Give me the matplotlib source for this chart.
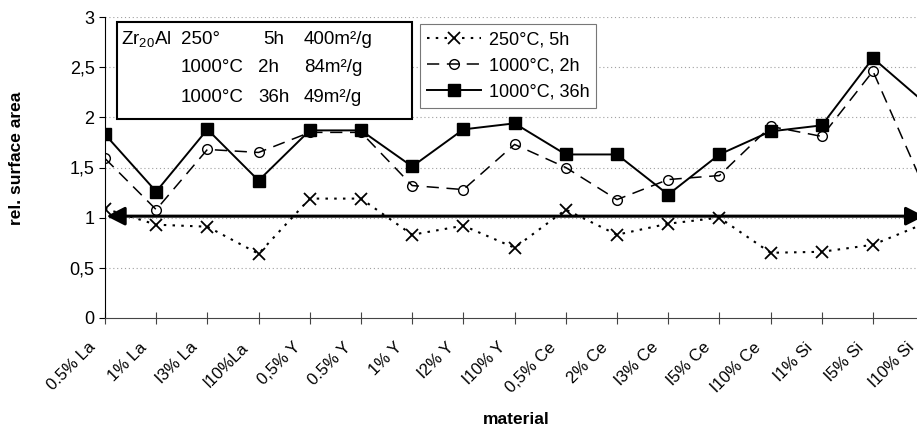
import matplotlib
matplotlib.use("Agg")
import matplotlib.pyplot as plt
from matplotlib.patches import Rectangle
from matplotlib.ticker import FuncFormatter
from matplotlib.transforms import ScaledTranslation

plt.rcParams["font.family"] = ["Liberation Sans", "DejaVu Sans"]

# data
materials = ["0.5% La", "1% La", "l3% La", "l10%La", "0,5% Y", "0.5% Y", "1% Y",
             "l2% Y", "l10% Y", "0,5% Ce", "2% Ce", "l3% Ce", "l5% Ce", "l10% Ce",
             "l1% Si", "l5% Si", "l10% Si"]
s_250_5h = [1.09, 0.93, 0.91, 0.64, 1.19, 1.19, 0.83, 0.92, 0.70, 1.08, 0.83,
            0.94, 1.00, 0.65, 0.66, 0.73, 0.94]
s_1000_2h = [1.59, 1.08, 1.68, 1.65, 1.85, 1.85, 1.32, 1.28, 1.73, 1.50, 1.18,
             1.38, 1.42, 1.91, 1.81, 2.46, 1.30]
s_1000_36h = [1.83, 1.26, 1.88, 1.37, 1.87, 1.87, 1.51, 1.88, 1.94, 1.63, 1.63,
              1.23, 1.63, 1.86, 1.92, 2.59, 2.15]
ref_level = 1.015

box_rows = [["Zr$_\\mathregular{20}$Al", "250°", "5h", "400m²/g"],
            ["", "1000°C", "2h", "84m²/g"],
            ["", "1000°C", "36h", "49m²/g"]]

fig = plt.figure(figsize=(9.17, 4.29), dpi=100)
W, H = 917, 429
ax = fig.add_axes([105 / W, 1 - 318 / H, 1 - 105 / W, (318 - 17) / H])

x = list(range(len(materials)))
ax.plot(x, s_250_5h, color="black", lw=1.5, ls=(0, (1.2, 3)), marker="x",
        ms=8, mew=1.3, label="250°C, 5h")
ax.plot(x, s_1000_2h, color="black", lw=1.1, ls=(0, (8, 5)), marker="o",
        ms=7, mfc="none", mew=1.0, label="1000°C, 2h")
ax.plot(x, s_1000_36h, color="black", lw=1.4, ls="-", marker="s",
        ms=8, label="1000°C, 36h")

ax.annotate("", xy=(0.03, ref_level), xytext=(16.0, ref_level),
            annotation_clip=False,
            arrowprops=dict(arrowstyle="<|-|>,head_length=0.55,head_width=0.28",
                            color="black", lw=2.2, mutation_scale=20,
                            shrinkA=0, shrinkB=0))

ax.set_yticks([0, 0.5, 1, 1.5, 2, 2.5, 3])
ax.yaxis.set_major_formatter(FuncFormatter(lambda v, p: ("%g" % v).replace(".", ",")))
ax.set_xticks(x)
ax.set_xticklabels([])
ax.set_xlim(0, 15.86)
ax.set_ylim(0, 3)
ax.tick_params(axis="x", direction="inout", length=9, width=0.8, color="#444444")
ax.tick_params(axis="y", direction="out", length=4, width=0.8, labelsize=13)

# category labels: slanted, ending a little left of / below each tick
lab_tr = ax.get_xaxis_transform() + ScaledTranslation(-0.12, -0.27, fig.dpi_scale_trans)
for i, name in enumerate(materials):
    ax.text(i, 0, name, transform=lab_tr, rotation=45, ha="right", va="center",
            rotation_mode="anchor", fontsize=12, clip_on=False)

for v in [0.5, 1, 1.5, 2, 2.5, 3]:
    ax.axhline(v, color="#a0a0a0", lw=0.8, ls=(0, (1, 2.5)), zorder=0)

for s in ["top", "right"]:
    ax.spines[s].set_visible(False)
ax.spines["left"].set_color("black")
ax.spines["bottom"].set_color("#444444")

ax.set_ylabel("rel. surface area", fontsize=12.5, fontweight="bold")
ax.yaxis.set_label_coords(-0.100, 0.53)
fig.text(516 / W, 1 - 420 / H, "material", fontsize=12.5, fontweight="bold",
         ha="center", va="center")

# info box
fig.add_artist(Rectangle((117 / W, 1 - 119 / H), (412 - 117) / W, (119 - 22) / H,
                         transform=fig.transFigure, fill=True, fc="white",
                         ec="black", lw=1.5, zorder=5))
col_x = [121, 181, 258, 304]
row_y = [40, 68, 97]
for r, row in enumerate(box_rows):
    for c, txt in enumerate(row):
        xx = col_x[c]
        if r == 0 and c == 2:
            xx = 263
        fig.text(xx / W, 1 - row_y[r] / H, txt, fontsize=13.5, ha="left",
                 va="center", zorder=6)

leg = ax.legend(loc="upper left", bbox_to_anchor=(420 / W, 1 - 24 / H),
                bbox_transform=fig.transFigure, fontsize=13, frameon=True,
                fancybox=False, edgecolor="#777777", handlelength=3.0,
                handletextpad=0.4, labelspacing=0.5, borderpad=0.4,
                borderaxespad=0, framealpha=1)
leg.get_frame().set_linewidth(0.8)

fig.savefig("out.png", dpi=100)
